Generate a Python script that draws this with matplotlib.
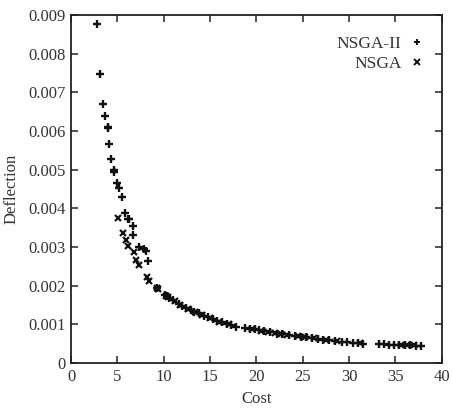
import matplotlib
matplotlib.use("Agg")
import matplotlib.pyplot as plt

plt.rcParams['font.family'] = ['Liberation Serif', 'DejaVu Serif']

# NSGA-II solutions (cost, deflection)
nsga2_cost = [2.78, 3.14, 3.42, 3.71, 3.96, 4.0, 4.04, 4.32, 4.65, 4.68, 4.94, 5.22,
              5.44, 5.77, 6.16, 6.3, 6.67, 6.67, 7.32, 7.82, 8.1, 8.32,
              9.3, 10.1, 10.3, 10.6, 11.0, 11.6, 12.0, 12.4, 12.9, 13.3, 13.8,
              14.3, 14.8, 15.3, 15.8, 16.3, 16.8, 17.3, 17.8, 18.8, 19.3, 19.8,
              20.3, 20.8, 21.5, 22.2, 22.8, 23.5, 24.2, 24.8, 25.4, 26.0, 26.6,
              27.2, 27.8, 28.5, 29.2, 29.8, 30.4, 31.0, 31.5, 33.2, 33.8, 34.3,
              34.8, 35.4, 36.0, 36.6, 37.2, 37.8]
nsga2_defl = [0.00876, 0.00747, 0.00669, 0.00639, 0.00611, 0.00607, 0.00566, 0.00527,
              0.00500, 0.00494, 0.00464, 0.00452, 0.00428, 0.00387, 0.00372, 0.00371,
              0.00354, 0.00331, 0.00300, 0.00294, 0.00289, 0.00264,
              0.00195, 0.00176, 0.00173, 0.00169, 0.00163, 0.00152, 0.00147, 0.00142,
              0.00137, 0.00133, 0.00128, 0.00122, 0.00118, 0.00114, 0.00109, 0.00105,
              0.00102, 0.00099, 0.00094, 0.00091, 0.00089, 0.00087, 0.00084, 0.00082,
              0.00079, 0.00076, 0.00074, 0.00072, 0.00070, 0.00068, 0.00066, 0.00064,
              0.00062, 0.00060, 0.00059, 0.00057, 0.00055, 0.00053, 0.00052, 0.00051,
              0.00050, 0.00048, 0.00048, 0.00047, 0.00047, 0.00046, 0.00046, 0.00046,
              0.00045, 0.00045]

# NSGA solutions (cost, deflection)
nsga_cost = [5.05, 5.55, 5.91, 6.16, 6.74, 6.95, 7.32, 8.18, 8.43, 9.26, 9.4, 10.2,
             10.5, 11.2, 11.8, 12.6, 13.4, 14.1, 15.0, 16.0, 17.0, 19.5, 20.5, 21.2,
             22.0, 22.7, 23.3, 24.5, 25.2, 26.2, 27.5, 28.7, 31.2, 35.6, 36.3, 37.0]
nsga_defl = [0.00375, 0.00336, 0.00317, 0.00303, 0.00288, 0.00266, 0.00253, 0.00221,
             0.00213, 0.00193, 0.00190, 0.00172, 0.00170, 0.00160, 0.00150, 0.00140,
             0.00132, 0.00125, 0.00116, 0.00107, 0.00100, 0.00087, 0.00083, 0.00079,
             0.00077, 0.00075, 0.00073, 0.00069, 0.00067, 0.00064, 0.00060, 0.00057,
             0.00051, 0.00047, 0.00046, 0.00046]

x_ticks = [0, 5, 10, 15, 20, 25, 30, 35, 40]
y_ticks = [0, 0.001, 0.002, 0.003, 0.004, 0.005, 0.006, 0.007, 0.008, 0.009]
y_labels = ['0', '0.001', '0.002', '0.003', '0.004', '0.005', '0.006', '0.007',
            '0.008', '0.009']

fig = plt.figure(figsize=(4.53, 4.12), dpi=100)
ax = fig.add_axes([0.157, 0.119, 0.818, 0.845])

ax.plot(nsga2_cost, nsga2_defl, linestyle='none', marker='+', markersize=5.5,
        markeredgewidth=1.7, color='#111111', label='NSGA-II')
ax.plot(nsga_cost, nsga_defl, linestyle='none', marker='x', markersize=4.5,
        markeredgewidth=1.6, color='#111111', label='NSGA')

ax.set_xlim(0, 40)
ax.set_ylim(0, 0.009)
ax.set_xticks(x_ticks)
ax.set_xticklabels([str(t) for t in x_ticks])
ax.set_yticks(y_ticks)
ax.set_yticklabels(y_labels)
ax.tick_params(direction='in', top=True, right=True, length=5, width=1.2,
               labelsize=12, colors='#333333', labelcolor='#333333', pad=4)
for s in ax.spines.values():
    s.set_linewidth(1.3)
    s.set_color('#222222')

ax.set_xlabel('Cost', fontsize=12, color='#333333', labelpad=5)
ax.set_ylabel('Deflection', fontsize=12, color='#333333', labelpad=6)

leg = ax.legend(loc='upper right', frameon=False, markerfirst=False, fontsize=12.5,
                handlelength=0.8, handletextpad=0.5, labelspacing=0.25,
                bbox_to_anchor=(0.995, 0.985), labelcolor='#333333')
for h in leg.legend_handles:
    h.set_markersize(4)
    h.set_markeredgewidth(1.4)

fig.savefig('out.png', dpi=100)
